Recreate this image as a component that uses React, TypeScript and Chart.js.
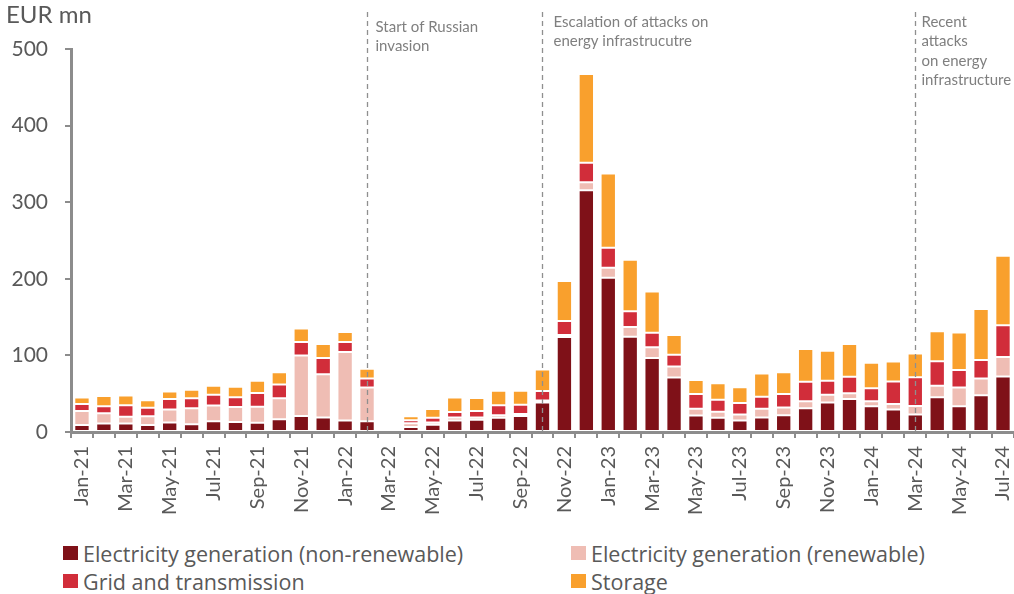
import { useEffect, useRef } from "react";
import { Chart, registerables } from "chart.js";

Chart.register(...registerables);

// Monthly investment needs by segment, EUR mn
const months = [
  "Jan-21", "Feb-21", "Mar-21", "Apr-21", "May-21", "Jun-21", "Jul-21", "Aug-21", "Sep-21", "Oct-21", "Nov-21", "Dec-21",
  "Jan-22", "Feb-22", "Mar-22", "Apr-22", "May-22", "Jun-22", "Jul-22", "Aug-22", "Sep-22", "Oct-22", "Nov-22", "Dec-22",
  "Jan-23", "Feb-23", "Mar-23", "Apr-23", "May-23", "Jun-23", "Jul-23", "Aug-23", "Sep-23", "Oct-23", "Nov-23", "Dec-23",
  "Jan-24", "Feb-24", "Mar-24", "Apr-24", "May-24", "Jun-24", "Jul-24",
];

const nonRenewable = [
  9, 11, 11, 9, 12.5, 10, 14, 13, 12, 16.5, 21, 19,
  15, 14, 3.5, 6.5, 9.5, 15, 16, 18.5, 21, 38.5, 124, 315.5,
  201.5, 124.5, 96.5, 71, 21.5, 18.5, 15, 19, 22, 31, 38.5, 43,
  33.5, 29.5, 23, 45.5, 33.5, 48, 72.5,
];

const renewable = [
  18.5, 13.5, 9, 11.5, 17, 21, 20.5, 19.5, 21, 27.5, 79, 56.5,
  89.5, 44, 2.5, 5, 3, 4, 3, 3.5, 2.5, 2.5, 2.5, 10.5,
  13, 12.5, 14, 14.5, 9, 8, 8, 11.5, 10, 9, 10, 7.5,
  6.5, 7, 11, 15, 24.5, 22, 25.5,
];

const gridTransmission = [
  9, 9, 15, 11, 13.5, 13, 14, 13, 18, 18, 17.5, 21,
  13, 12, 2, 4, 6, 7, 8.5, 13, 12, 12.5, 18.5, 25.5,
  26, 20.5, 19, 15.5, 19, 15.5, 15, 15.5, 17.5, 25.5, 18.5, 21.5,
  17, 29.5, 37.5, 32, 23, 24, 41.5,
];

const storage = [
  8.5, 13.5, 12.5, 10, 10, 11, 12, 13.5, 16, 16, 17.5, 18.5,
  13, 12.5, 2, 5, 11.5, 19, 17, 19, 18.5, 28, 52, 116,
  97, 67.5, 54, 25.5, 18.5, 21.5, 20.5, 30.5, 28.5, 43, 39, 43,
  33.5, 26, 31, 39, 49, 66.5, 90.5,
];

const seriesNames = [
  "Electricity generation (non-renewable)",
  "Electricity generation (renewable)",
  "Grid and transmission",
  "Storage",
];
const seriesColors = ["#7f1118", "#efbdb4", "#d12d3a", "#f9a02d"];
const seriesValues = [nonRenewable, renewable, gridTransmission, storage];

// Vertical event markers
const eventMonths = ["Feb-22", "Oct-22", "Mar-24"];
const eventTexts = [
  ["Start of Russian", "invasion"],
  ["Escalation of attacks on", "energy infrastrucutre"],
  ["Recent", "attacks", "on energy", "infrastructure"],
];
const eventTextOffsets = [8, 11, 6];
const eventTextTops = [27, 22, 22];

const axisColor = "#8c8c8c";
const textColor = "#595959";
const fontFamily = "Lato, 'Open Sans', sans-serif";
const legendFont = "'Open Sans', Lato, sans-serif";

const eventPlugin = {
  id: "eventMarkers",
  afterDraw(chart: any) {
    const { ctx, chartArea, scales } = chart;
    const x = scales.x;
    ctx.save();
    // unit label
    ctx.fillStyle = textColor;
    ctx.font = `24px ${fontFamily}`;
    ctx.textBaseline = "middle";
    ctx.textAlign = "left";
    ctx.fillText("EUR mn", 6, 15);

    eventMonths.forEach((m, i) => {
      const px = Math.round(x.getPixelForValue(months.indexOf(m))) + 0.5;
      ctx.strokeStyle = "#8f8f8f";
      ctx.lineWidth = 1.3;
      ctx.setLineDash([5, 4]);
      ctx.beginPath();
      ctx.moveTo(px, 12);
      ctx.lineTo(px, chartArea.bottom);
      ctx.stroke();
      ctx.setLineDash([]);
      ctx.fillStyle = "#7f7f7f";
      ctx.font = `15px ${fontFamily}`;
      ctx.textBaseline = "middle";
      eventTexts[i].forEach((t, j) => {
        ctx.fillText(t, px + eventTextOffsets[i], eventTextTops[i] + j * 19.5);
      });
    });
    ctx.restore();
  },
};

export default function App() {
  const canvasRef = useRef<HTMLCanvasElement>(null);

  useEffect(() => {
    document.body.style.margin = "0";
    const canvas = canvasRef.current;
    if (!canvas) return;
    const chart = new Chart(canvas, {
      type: "bar",
      data: {
        labels: months,
        datasets: seriesNames.map((name, i) => ({
          label: name,
          data: seriesValues[i],
          backgroundColor: seriesColors[i],
          borderColor: "rgba(255,255,255,0.35)",
          borderWidth: 1,
          borderSkipped: false,
          barPercentage: 0.7,
          categoryPercentage: 1,
        })),
      },
      options: {
        animation: false,
        responsive: false,
        maintainAspectRatio: false,
        layout: { padding: { top: 49, right: 0, bottom: 8, left: 0 } },
        plugins: {
          legend: { display: false },
          tooltip: { enabled: false },
        },
        scales: {
          x: {
            stacked: true,
            offset: true,
            border: { color: axisColor, width: 3 },
            grid: {
              drawOnChartArea: false,
              drawTicks: true,
              tickLength: 6,
              color: axisColor,
              lineWidth: 2,
            },
            ticks: {
              autoSkip: false,
              minRotation: 90,
              maxRotation: 90,
              padding: 8,
              color: textColor,
              font: { family: fontFamily, size: 20 },
              callback: (_v: any, i: number) => (i % 2 === 0 ? months[i] : ""),
            },
            afterFit: (s: any) => {
              s.height = 90;
            },
          },
          y: {
            stacked: true,
            min: 0,
            max: 500,
            border: { color: axisColor, width: 3 },
            grid: {
              drawOnChartArea: false,
              drawTicks: true,
              tickLength: 6,
              color: axisColor,
              lineWidth: 2,
            },
            ticks: {
              stepSize: 100,
              padding: 17,
              color: textColor,
              font: { family: fontFamily, size: 21 },
            },
            afterFit: (s: any) => {
              s.width = 71;
            },
          },
        },
      },
      plugins: [eventPlugin],
    });
    return () => chart.destroy();
  }, []);

  const legendPos = [
    { left: 63, top: 546 },
    { left: 571, top: 546 },
    { left: 63, top: 574 },
    { left: 571, top: 574 },
  ];

  return (
    <div style={{ position: "relative", width: 1014, height: 594, overflow: "hidden", background: "#fff" }}>
      <canvas ref={canvasRef} width={1035} height={530} style={{ display: "block" }} />
      {seriesNames.map((name, i) => (
        <div
          key={name}
          style={{
            position: "absolute",
            left: legendPos[i].left,
            top: legendPos[i].top - 6,
            display: "flex",
            alignItems: "center",
            height: 26,
            fontFamily: legendFont,
            fontSize: 21.5,
            color: textColor,
            whiteSpace: "nowrap",
          }}
        >
          <span style={{ display: "inline-block", width: 15, height: 14, background: seriesColors[i], marginRight: 5 }} />
          <span>{name}</span>
        </div>
      ))}
    </div>
  );
}
